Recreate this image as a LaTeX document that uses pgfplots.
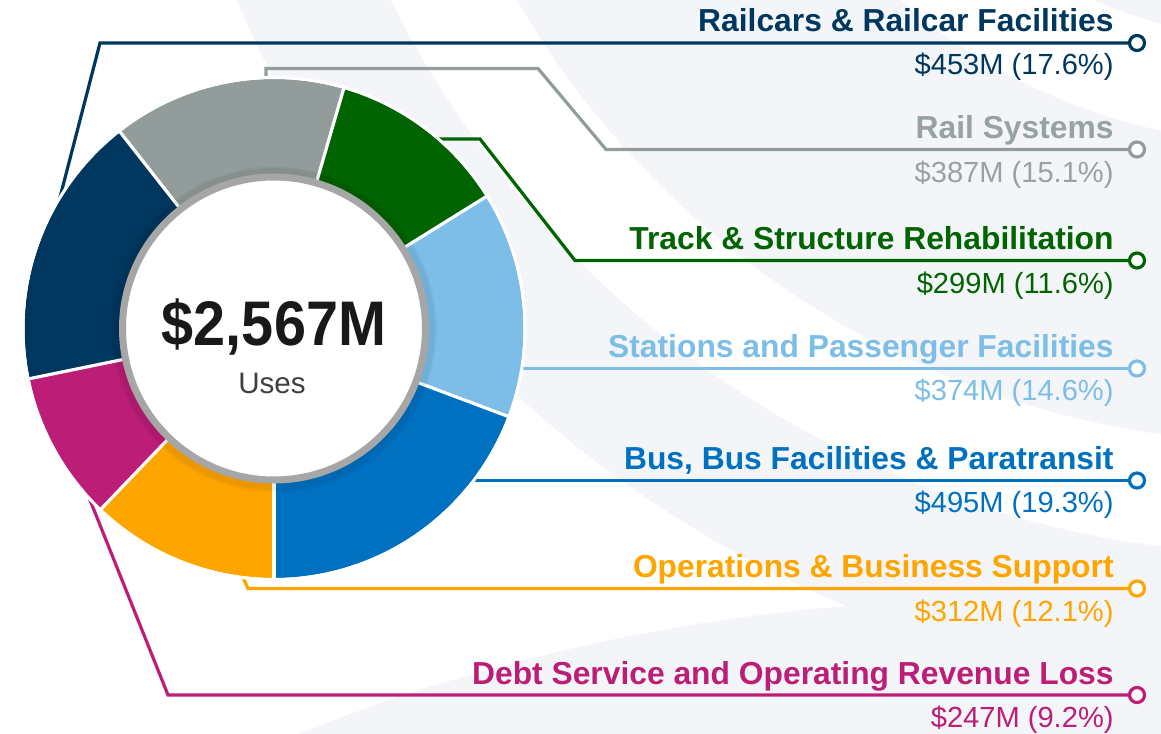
\documentclass[border=0pt]{standalone}
\usepackage{pgfplots}
\pgfplotsset{compat=1.18}
\usepackage{graphicx}
\usepackage{fontspec}
\setmainfont{Liberation Sans}
\definecolor{cNavy}{HTML}{00375F}
\definecolor{cGray}{HTML}{919C9B}
\definecolor{cGrayT}{HTML}{97A2A1}
\definecolor{cGreen}{HTML}{006400}
\definecolor{cLBlue}{HTML}{7DBEE8}
\definecolor{cBlue}{HTML}{0070C0}
\definecolor{cOrange}{HTML}{FFA500}
\definecolor{cMag}{HTML}{BC1E77}
\definecolor{cRing}{HTML}{A6A6A6}
\definecolor{cPale}{HTML}{F4F5F8}
% data (million $)
\def\vBus{495}\def\vSta{374}\def\vTrk{299}\def\vRsy{387}\def\vRcr{453}\def\vDebt{247}\def\vOps{312}
\pgfmathsetmacro\tot{\vBus+\vSta+\vTrk+\vRsy+\vRcr+\vDebt+\vOps}
\pgfmathsetmacro\aA{270}
\pgfmathsetmacro\aB{\aA+\vBus/\tot*360}
\pgfmathsetmacro\aC{\aB+\vSta/\tot*360}
\pgfmathsetmacro\aD{\aC+\vTrk/\tot*360}
\pgfmathsetmacro\aE{\aD+\vRsy/\tot*360}
\pgfmathsetmacro\aF{\aE+\vRcr/\tot*360}
\pgfmathsetmacro\aG{\aF+\vDebt/\tot*360}
\pgfmathsetmacro\aH{\aG+\vOps/\tot*360}
\newcommand\lab[1]{\fontsize{15.9}{18}\selectfont\bfseries #1}
\newcommand\val[1]{\fontsize{14.55}{17}\selectfont #1}
\begin{document}
\begin{tikzpicture}
\useasboundingbox (0,0) rectangle (580.5pt,366.5pt);
\begin{axis}[at={(0,0)}, anchor=south west, scale only axis,
  width=580.5pt, height=366.5pt, xmin=0, xmax=1161, ymin=0, ymax=733,
  y dir=reverse, hide axis, clip=false]
% background swooshes
\begin{scope}
\clip (axis cs:0,0) rectangle (axis cs:1161,733);
\fill[cPale, even odd rule] (axis cs:1286,-446) circle[radius=570pt] circle[radius=500pt];
\fill[cPale, even odd rule] (axis cs:1286,-446) circle[radius=444.5pt] circle[radius=295pt];
\fill[cPale] (axis cs:1286,-446) circle[radius=243pt];
\fill[cPale] (axis cs:1000,2500) circle[radius=950pt];
\end{scope}
% leader lines
\addplot[cNavy, line width=1.6pt, mark=*, mark indices={3}, mark size=3.75pt, mark options={fill=white}] coordinates {(58,205)(100,43)(1137,43)};
\addplot[cGray, line width=1.6pt, mark=*, mark indices={5}, mark size=3.75pt, mark options={fill=white}] coordinates {(266,80)(266,68.5)(538,68.5)(606,149.5)(1137,149.5)};
\addplot[cGreen, line width=1.6pt, mark=*, mark indices={4}, mark size=3.75pt, mark options={fill=white}] coordinates {(436,139)(480,139)(575,260.5)(1137,260.5)};
\addplot[cLBlue, line width=1.6pt, mark=*, mark indices={2}, mark size=3.75pt, mark options={fill=white}] coordinates {(515,368.5)(1137,368.5)};
\addplot[cBlue, line width=1.6pt, mark=*, mark indices={2}, mark size=3.75pt, mark options={fill=white}] coordinates {(465,480.5)(1137,480.5)};
\addplot[cOrange, line width=1.6pt, mark=*, mark indices={3}, mark size=3.75pt, mark options={fill=white}] coordinates {(242,575)(248,588.5)(1137,588.5)};
\addplot[cMag, line width=1.6pt, mark=*, mark indices={3}, mark size=3.75pt, mark options={fill=white}] coordinates {(82,480)(168,695)(1137,695)};
% donut segments
\addplot[cBlue,   line width=50.75pt, domain=\aA:\aB, samples=80, variable=\t] ({274+198.75*cos(\t)},{328.5-198.75*sin(\t)});
\addplot[cLBlue,  line width=50.75pt, domain=\aB:\aC, samples=80, variable=\t] ({274+198.75*cos(\t)},{328.5-198.75*sin(\t)});
\addplot[cGreen,  line width=50.75pt, domain=\aC:\aD, samples=80, variable=\t] ({274+198.75*cos(\t)},{328.5-198.75*sin(\t)});
\addplot[cGray,   line width=50.75pt, domain=\aD:\aE, samples=80, variable=\t] ({274+198.75*cos(\t)},{328.5-198.75*sin(\t)});
\addplot[cNavy,   line width=50.75pt, domain=\aE:\aF, samples=80, variable=\t] ({274+198.75*cos(\t)},{328.5-198.75*sin(\t)});
\addplot[cMag,    line width=50.75pt, domain=\aF:\aG, samples=80, variable=\t] ({274+198.75*cos(\t)},{328.5-198.75*sin(\t)});
\addplot[cOrange, line width=50.75pt, domain=\aG:\aH, samples=80, variable=\t] ({274+198.75*cos(\t)},{328.5-198.75*sin(\t)});
% white outline and separators
\addplot[white, line width=1.5pt, domain=0:360, samples=181, variable=\t] ({274+251*cos(\t)},{328.5-251*sin(\t)});
\addplot[white, line width=1.6pt, domain=140:253, samples=2, variable=\r] ({274+\r*cos(\aA)},{328.5-\r*sin(\aA)});
\addplot[white, line width=1.6pt, domain=140:253, samples=2, variable=\r] ({274+\r*cos(\aB)},{328.5-\r*sin(\aB)});
\addplot[white, line width=1.6pt, domain=140:253, samples=2, variable=\r] ({274+\r*cos(\aC)},{328.5-\r*sin(\aC)});
\addplot[white, line width=1.6pt, domain=140:253, samples=2, variable=\r] ({274+\r*cos(\aD)},{328.5-\r*sin(\aD)});
\addplot[white, line width=1.6pt, domain=140:253, samples=2, variable=\r] ({274+\r*cos(\aE)},{328.5-\r*sin(\aE)});
\addplot[white, line width=1.6pt, domain=140:253, samples=2, variable=\r] ({274+\r*cos(\aF)},{328.5-\r*sin(\aF)});
\addplot[white, line width=1.6pt, domain=140:253, samples=2, variable=\r] ({274+\r*cos(\aG)},{328.5-\r*sin(\aG)});
% centre disc with soft shadow
\fill[black, opacity=0.035] (axis cs:274,329.5) circle[radius=81.5pt];
\fill[black, opacity=0.045] (axis cs:274,329) circle[radius=80.5pt];
\draw[cRing, line width=3.5pt, fill=white] (axis cs:274,328.5) circle[radius=75.75pt];
\node[anchor=base, inner sep=0pt, text=black!90] at (axis cs:274,345) {\fontsize{31.5}{36}\selectfont\bfseries\scalebox{0.914}[1]{\$2,567M}};
\node[anchor=base, inner sep=0pt, text=black!75] at (axis cs:272,393) {\fontsize{14.8}{17}\selectfont Uses};
% labels
\begin{scope}[every node/.style={anchor=base east, inner sep=0pt}]
\node[text=cNavy]   at (axis cs:1114,32)  {\lab{Railcars \& Railcar Facilities}};
\node[text=cNavy]   at (axis cs:1114,75)  {\val{\$453M (17.6\%)}};
\node[text=cGrayT]  at (axis cs:1114,139) {\lab{Rail Systems}};
\node[text=cGrayT]  at (axis cs:1114,182) {\val{\$387M (15.1\%)}};
\node[text=cGreen]  at (axis cs:1114,249.5) {\lab{Track \& Structure Rehabilitation}};
\node[text=cGreen]  at (axis cs:1114,293) {\val{\$299M (11.6\%)}};
\node[text=cLBlue]  at (axis cs:1114,357) {\lab{Stations and Passenger Facilities}};
\node[text=cLBlue]  at (axis cs:1114,400) {\val{\$374M (14.6\%)}};
\node[text=cBlue]   at (axis cs:1114,469) {\lab{Bus, Bus Facilities \& Paratransit}};
\node[text=cBlue]   at (axis cs:1114,512) {\val{\$495M (19.3\%)}};
\node[text=cOrange] at (axis cs:1114,577) {\lab{Operations \& Business Support}};
\node[text=cOrange] at (axis cs:1114,621) {\val{\$312M (12.1\%)}};
\node[text=cMag]    at (axis cs:1114,684) {\lab{Debt Service and Operating Revenue Loss}};
\node[text=cMag]    at (axis cs:1114,727) {\val{\$247M (9.2\%)}};
\end{scope}
\end{axis}
\end{tikzpicture}
\end{document}
